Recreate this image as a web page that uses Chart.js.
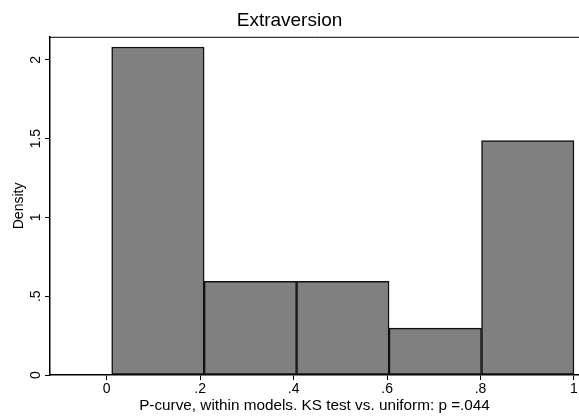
<!DOCTYPE html>
<html>
<head>
<meta charset="utf-8">
<script src="https://cdn.jsdelivr.net/npm/chart.js@4"></script>
<style>
  html, body { margin: 0; padding: 0; background: #fff; }
  #wrap { width: 579px; height: 419px; }
</style>
</head>
<body>
<div id="wrap"><canvas id="chart-hist"></canvas></div>
<script>
// histogram bins (edges) and densities
const binEdges = [0.0107, 0.2086, 0.4064, 0.6043, 0.8021, 1.0];
const density = [2.081, 0.595, 0.595, 0.297, 1.487];
const xTicks = [0, 0.2, 0.4, 0.6, 0.8, 1];
const yTicks = [0, 0.5, 1, 1.5, 2];

const FONT = "'Liberation Sans', Arial, Helvetica, sans-serif";

// stata style labels: .2 instead of 0.2
function stataNum(v) {
  let s = String(Math.round(v * 1000) / 1000);
  if (s.startsWith("0.")) s = s.slice(1);
  return s;
}

const bins = density.map((d, i) => ({
  x: (binEdges[i] + binEdges[i + 1]) / 2,
  y: d,
}));

// rotated y tick labels + top frame line
const stataAxes = {
  id: "stataAxes",
  afterDraw(chart) {
    const { ctx, chartArea } = chart;
    const ys = chart.scales.y;
    ctx.save();
    ctx.strokeStyle = "#000";
    ctx.lineWidth = 1;
    ctx.beginPath();
    ctx.moveTo(chartArea.left, chartArea.top + 0.5);
    ctx.lineTo(chartArea.right, chartArea.top + 0.5);
    ctx.stroke();

    ctx.fillStyle = "#000";
    ctx.font = "14px " + FONT;
    ctx.textAlign = "center";
    ctx.textBaseline = "middle";
    ys.ticks.forEach((t) => {
      const y = ys.getPixelForValue(t.value);
      ctx.save();
      ctx.translate(36, y);
      ctx.rotate(-Math.PI / 2);
      ctx.fillText(stataNum(t.value), 0, 0);
      ctx.restore();
    });
    ctx.restore();
  },
};

new Chart(document.getElementById("chart-hist"), {
  type: "bar",
  data: {
    datasets: [
      {
        label: "Density",
        data: bins,
        backgroundColor: "#808080",
        borderColor: "#111",
        borderWidth: 1.5,
        borderSkipped: false,
        barPercentage: 1,
        categoryPercentage: 1,
      },
    ],
  },
  options: {
    responsive: true,
    maintainAspectRatio: false,
    animation: false,
    layout: { padding: 0 },
    plugins: {
      legend: { display: false },
      tooltip: { enabled: false },
      title: {
        display: true,
        text: "Extraversion",
        color: "#000",
        font: { family: FONT, size: 19, weight: "normal" },
        padding: { top: 9, bottom: 5 },
      },
    },
    scales: {
      x: {
        type: "linear",
        min: -0.1213,
        max: 1.0107,
        offset: false,
        afterBuildTicks: (s) => {
          s.ticks = xTicks.map((v) => ({ value: v }));
        },
        afterFit: (s) => {
          s.height = 44;
        },
        grid: {
          offset: false,
          drawOnChartArea: false,
          drawTicks: true,
          tickLength: 5,
          color: "#000",
        },
        border: { display: true, color: "#000", width: 1.5 },
        ticks: {
          color: "#000",
          padding: 1,
          maxRotation: 0,
          font: { family: FONT, size: 14 },
          callback: (v) => stataNum(v),
        },
        title: {
          display: true,
          text: "P-curve, within models. KS test vs. uniform: p =.044",
          color: "#000",
          font: { family: FONT, size: 15.3 },
          padding: { top: 0, bottom: 4 },
        },
      },
      y: {
        min: 0,
        max: 2.146,
        afterBuildTicks: (s) => {
          s.ticks = yTicks.map((v) => ({ value: v }));
        },
        afterFit: (s) => {
          s.width = 50;
        },
        grid: {
          drawOnChartArea: false,
          drawTicks: true,
          tickLength: 5,
          color: "#000",
        },
        border: { display: true, color: "#000", width: 1.5 },
        ticks: { display: false },
        title: {
          display: true,
          text: "Density",
          color: "#000",
          font: { family: FONT, size: 14 },
          padding: { top: 11, bottom: 0 },
        },
      },
    },
  },
  plugins: [stataAxes],
});
</script>
</body>
</html>
